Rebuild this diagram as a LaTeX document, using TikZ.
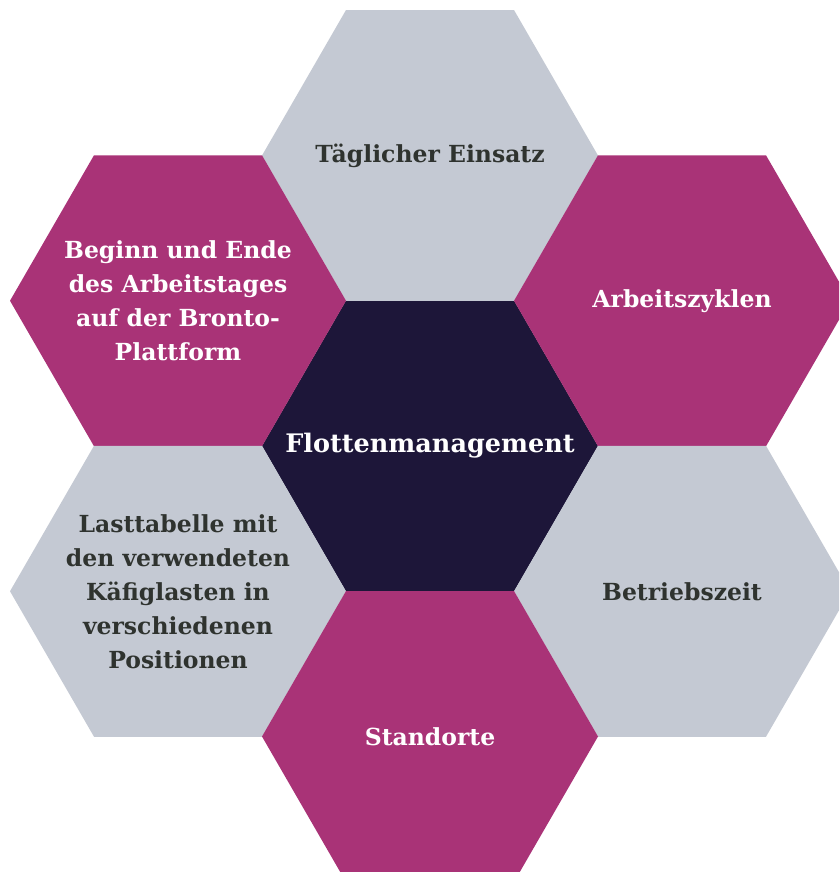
\documentclass[tikz,border=0pt]{standalone}
\usepackage{fontspec}
\setmainfont{DejaVu Serif}
\usepackage{tikz}
\usetikzlibrary{shapes.geometric}
\usetikzlibrary{positioning}

\definecolor{hexgray}{HTML}{C4C9D3}
\definecolor{hexplum}{HTML}{A93377}
\definecolor{hexnight}{HTML}{1D1639}
\definecolor{hexink}{HTML}{2F332F}

\tikzset{
  hex/.style={regular polygon, regular polygon sides=6, minimum size=336pt,
    inner sep=0pt, outer sep=0pt},
  hexg/.style={hex, fill=hexgray},
  hexp/.style={hex, fill=hexplum},
  hexd/.style={hex, fill=hexnight},
  lbl/.style={align=center, inner sep=0pt, font=\fontsize{23.5}{34}\selectfont\bfseries},
  lblg/.style={lbl, text=hexink},
  lblw/.style={lbl, text=white}
}

\begin{document}
\begin{tikzpicture}[x=1pt,y=-1pt]
				\useasboundingbox (0,0) rectangle (839,872);
				\clip (0,0) rectangle (839,872);
				
				\node[hexd] (ctr) at (430,446) {};
				\node[hexg] (top) at (430,155.5) {};
				\node[hexp] (ul) at (178,300.75) {};
				\node[hexp] (ur) at (682,300.75) {};
				\node[hexg] (ll) at (178,591.25) {};
				\node[hexg] (lr) at (682,591.25) {};
				\node[hexp] (bot) at (430,736.5) {};
				
				\node[lblw, font=\fontsize{25.5}{34}\selectfont\bfseries] (ctrtxt) at (ctr) {Flottenmanagement};
				\node[lblg] (toptxt) at (top) {Täglicher Einsatz};
				\node[lblw] (ultxt) at (ul) {Beginn und Ende\\des Arbeitstages\\auf der Bronto-\\Plattform};
				\node[lblw] (urtxt) at (ur) {Arbeitszyklen};
				\node[lblg] (lltxt) at (ll) {Lasttabelle mit\\den verwendeten\\Käfiglasten in\\verschiedenen\\Positionen};
				\node[lblg] (lrtxt) at (lr) {Betriebszeit};
				\node[lblw] (bottxt) at (bot) {Standorte};
			\end{tikzpicture}
\end{document}
